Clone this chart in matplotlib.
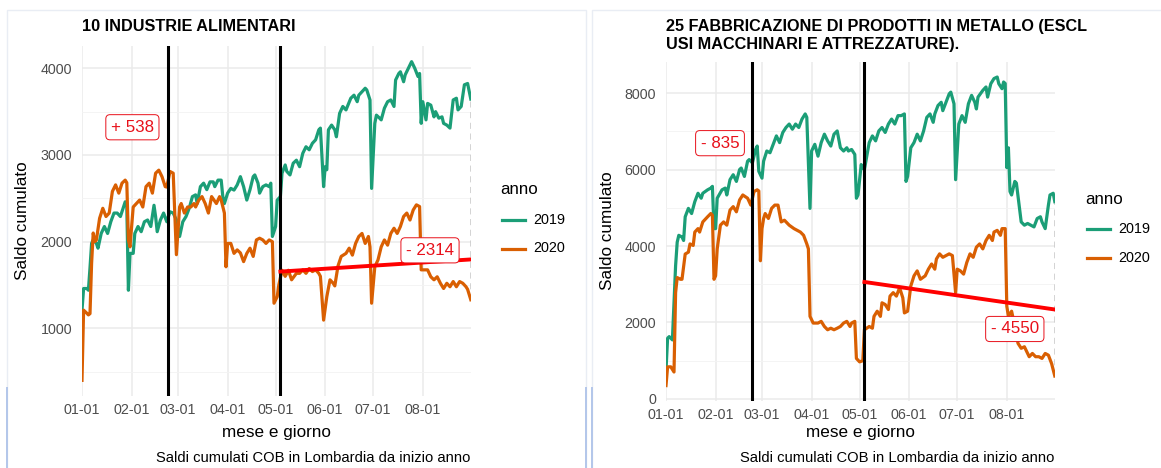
import numpy as np
import matplotlib
matplotlib.use('Agg')

import matplotlib.pyplot as plt
from matplotlib.lines import Line2D
from matplotlib.patches import Rectangle

plt.rcParams['font.family'] = ['Liberation Sans', 'DejaVu Sans']

# x axis: days since 1 January (2020 calendar), labelled as month-day
month_days = [0, 31, 60, 91, 121, 152, 182, 213]
month_labels = ["01-01", "02-01", "03-01", "04-01", "05-01", "06-01", "07-01", "08-01"]
last_day = 243
event_days = [54, 124]          # 24 Feb and 4 May

# 10 INDUSTRIE ALIMENTARI, (day, saldo cumulato)
food_2019 = [(0, 1210), (1, 1460), (3, 1460), (4, 1440), (5, 1700), (6, 1980), (7, 2020),
             (9, 1980), (10, 1925), (12, 2095), (14, 2175), (16, 2095), (18, 2230), (20, 2330),
             (22, 2330), (24, 2290), (26, 2405), (27, 2460), (28, 2400), (29, 1440), (30, 1865),
             (32, 1865), (33, 2095), (35, 2175), (37, 2115), (39, 2230), (41, 2250), (43, 2175),
             (45, 2420), (46, 2290), (47, 2115), (49, 2250), (51, 2330), (53, 2230), (55, 2345),
             (57, 2330), (59, 2250), (61, 2060), (63, 2230), (65, 2290), (67, 2385), (69, 2520),
             (71, 2540), (72, 2440), (74, 2635), (76, 2675), (78, 2600), (80, 2690), (82, 2690),
             (83, 2635), (85, 2710), (87, 2710), (88, 2520), (89, 2440), (91, 2560), (93, 2615),
             (95, 2595), (97, 2655), (99, 2750), (101, 2635), (103, 2480), (105, 2600), (107, 2750),
             (108, 2770), (110, 2675), (111, 2560), (113, 2635), (115, 2655), (117, 2635),
             (118, 2675), (119, 2060), (121, 2175), (122, 2480), (124, 2520), (125, 2790),
             (127, 2885), (128, 2810), (130, 2770), (132, 2905), (134, 2940), (136, 2865),
             (138, 3020), (140, 3095), (142, 3060), (144, 3135), (146, 3175), (148, 3290),
             (149, 3310), (151, 2635), (152, 2865), (153, 2830), (154, 3290), (156, 3345),
             (158, 3290), (159, 3210), (161, 3480), (163, 3560), (165, 3520), (168, 3655),
             (170, 3690), (172, 3615), (173, 3690), (175, 3730), (177, 3770), (178, 3750),
             (180, 3635), (181, 2615), (183, 3365), (184, 3460), (186, 3425), (187, 3405),
             (189, 3540), (191, 3615), (193, 3635), (195, 3560), (196, 3865), (198, 3940),
             (199, 3960), (201, 3845), (202, 3925), (205, 4040), (206, 4077), (208, 4000),
             (210, 3905), (211, 3940), (212, 3365), (213, 3615), (215, 3405), (216, 3595),
             (218, 3575), (220, 3440), (221, 3500), (223, 3425), (225, 3440), (226, 3365),
             (228, 3345), (230, 3310), (232, 3635), (234, 3655), (235, 3520), (237, 3560),
             (239, 3810), (241, 3825), (243, 3645)]
food_2020 = [(0, 400), (1, 1210), (3, 1175), (4, 1155), (5, 1170), (6, 1750), (7, 2100),
             (8, 2000), (9, 2020), (11, 2270), (13, 2385), (15, 2290), (17, 2330), (19, 2580),
             (21, 2655), (23, 2560), (25, 2675), (27, 2710), (28, 2680), (29, 2020), (30, 1940),
             (32, 2400), (34, 2440), (36, 2480), (38, 2400), (40, 2635), (42, 2675), (44, 2560),
             (46, 2790), (48, 2825), (50, 2750), (52, 2635), (53, 2630), (55, 2810), (57, 2790),
             (59, 1850), (61, 2400), (62, 2440), (64, 2330), (66, 2400), (68, 2400), (70, 2440),
             (71, 2400), (73, 2480), (75, 2520), (77, 2440), (79, 2330), (81, 2520), (84, 2440),
             (86, 2520), (87, 2480), (89, 2330), (90, 1710), (91, 1980), (93, 1980), (95, 1865),
             (97, 1905), (99, 1870), (101, 1770), (103, 1865), (105, 1925), (107, 1830),
             (109, 2020), (111, 2040), (113, 2020), (115, 1980), (117, 2020), (119, 2000),
             (120, 1290), (122, 1365), (123, 1500), (125, 1670), (127, 1600), (129, 1670),
             (131, 1560), (134, 1635), (136, 1635), (138, 1675), (140, 1635), (142, 1690),
             (144, 1655), (146, 1675), (148, 1635), (149, 1600), (151, 1095), (153, 1365),
             (155, 1560), (157, 1520), (158, 1490), (160, 1720), (162, 1830), (165, 1865),
             (167, 1925), (169, 1845), (171, 1980), (173, 2060), (175, 2095), (177, 1980),
             (179, 2060), (180, 1940), (181, 1290), (183, 1710), (185, 1790), (187, 1940),
             (189, 2020), (191, 1960), (193, 2095), (195, 2155), (197, 2095), (199, 2175),
             (201, 2290), (203, 2330), (205, 2250), (207, 2365), (209, 2425), (211, 2405),
             (212, 1675), (214, 1675), (216, 1675), (218, 1595), (220, 1560), (222, 1595),
             (224, 1520), (226, 1460), (228, 1520), (230, 1480), (232, 1540), (234, 1480),
             (236, 1540), (238, 1520), (240, 1480), (241, 1450), (243, 1330)]

# 25 FABBRICAZIONE DI PRODOTTI IN METALLO
metal_2019 = [(0, 750), (1, 1590), (2, 1630), (4, 1545), (5, 2500), (6, 3485), (7, 4100),
              (8, 4280), (10, 4235), (11, 4145), (12, 4765), (14, 4985), (16, 4850), (18, 5160),
              (20, 5380), (22, 5250), (23, 5380), (26, 5470), (28, 5515), (29, 5560), (30, 4455),
              (31, 4455), (32, 5250), (35, 5470), (37, 5515), (38, 5335), (40, 5735), (42, 5865),
              (44, 5690), (46, 6000), (47, 6040), (49, 5820), (51, 6220), (52, 6260), (54, 6175),
              (56, 6525), (57, 6615), (58, 5955), (60, 5775), (61, 6220), (63, 6485), (65, 6440),
              (67, 6660), (69, 6880), (71, 6705), (73, 6970), (75, 7100), (77, 7190), (79, 7055),
              (81, 7190), (83, 7100), (85, 7320), (87, 7455), (88, 7365), (90, 4985), (91, 6485),
              (93, 6660), (95, 6350), (97, 6705), (99, 6925), (101, 6750), (103, 6615),
              (105, 6925), (107, 7010), (109, 6570), (111, 6485), (113, 6570), (114, 6485),
              (116, 6525), (118, 6395), (119, 5250), (120, 5335), (122, 6130), (123, 6040),
              (124, 6000), (127, 6705), (129, 6880), (131, 6750), (133, 7010), (135, 7100),
              (137, 6970), (139, 7190), (141, 7320), (143, 7190), (145, 7410), (147, 7410),
              (149, 7455), (150, 5690), (151, 5820), (153, 6570), (155, 6705), (157, 6925),
              (159, 6750), (161, 7010), (163, 7365), (165, 7455), (167, 7235), (168, 7455),
              (170, 7675), (172, 7760), (173, 7540), (175, 7760), (177, 7980), (178, 8025),
              (180, 7720), (181, 5735), (183, 7190), (185, 7410), (186, 7320), (187, 7235),
              (189, 7720), (191, 7940), (193, 7760), (194, 7585), (195, 7895), (198, 8070),
              (200, 8160), (201, 7895), (203, 8245), (205, 8380), (207, 8420), (208, 8245),
              (210, 8115), (211, 8290), (212, 8250), (213, 6050), (214, 6570), (215, 5425),
              (216, 5335), (218, 5690), (219, 5645), (220, 5300), (222, 4630), (224, 4545),
              (226, 4590), (228, 4545), (230, 4500), (232, 4720), (234, 4765), (235, 4630),
              (237, 4455), (239, 5070), (240, 5335), (242, 5380), (243, 5160)]
metal_2020 = [(0, 350), (1, 840), (3, 840), (5, 705), (6, 2780), (7, 3175), (9, 3130),
              (10, 3130), (12, 3790), (14, 3840), (15, 4055), (17, 4015), (18, 4365), (20, 4455),
              (21, 4365), (23, 4630), (26, 4765), (28, 4850), (29, 4805), (30, 3130), (31, 3220),
              (32, 3925), (34, 4545), (36, 4630), (38, 4545), (40, 4940), (42, 5030), (44, 4895),
              (46, 5205), (48, 5335), (51, 5250), (53, 5070), (55, 5425), (57, 5470), (58, 5440),
              (59, 3615), (60, 4455), (61, 4720), (62, 4850), (64, 4720), (66, 4985), (68, 5070),
              (70, 5070), (72, 4630), (74, 4675), (77, 4545), (80, 4455), (82, 4410), (84, 4365),
              (86, 4280), (88, 4055), (89, 3925), (90, 2160), (91, 2075), (92, 1985), (95, 1985),
              (97, 2030), (99, 1895), (101, 1810), (103, 1850), (105, 1810), (107, 1850),
              (109, 1895), (111, 1985), (113, 2030), (115, 1895), (116, 1985), (118, 2030),
              (119, 1060), (121, 970), (123, 1000), (124, 1810), (127, 1895), (129, 1850),
              (130, 2160), (132, 2295), (134, 2160), (135, 2515), (137, 2470), (139, 2340),
              (140, 2690), (142, 2780), (144, 2690), (146, 2910), (148, 2645), (149, 2250),
              (151, 2295), (153, 2955), (155, 3220), (157, 3350), (159, 3130), (162, 3220),
              (164, 3395), (166, 3530), (168, 3395), (169, 3660), (171, 3795), (173, 3705),
              (175, 3750), (177, 3795), (179, 3750), (181, 2780), (182, 3395), (184, 3350),
              (186, 3265), (188, 3570), (190, 3795), (192, 3705), (194, 3970), (196, 4055),
              (198, 3925), (200, 4145), (202, 4280), (204, 4145), (205, 4365), (207, 4410),
              (209, 4280), (210, 4455), (212, 4455), (213, 2425), (214, 2160), (216, 2295),
              (218, 1900), (220, 1455), (222, 1325), (224, 1365), (226, 1190), (227, 1105),
              (229, 1190), (231, 1105), (233, 1105), (235, 1060), (237, 1190), (239, 1145),
              (241, 925), (243, 600)]

# trend of 2020 after 4 May (start, end)
trend_days = [124, 243]
food_trend = [1655, 1795]
metal_trend = [3060, 2340]

# difference labels: (day, y position, text)
food_labels = [(31.5, 3320, "+ 538"), (217.5, 1900, "- 2314")]
metal_labels = [(33.75, 6690, "- 835"), (218, 1830, "- 4550")]

titles = [["10 INDUSTRIE ALIMENTARI"],
          ["25 FABBRICAZIONE DI PRODOTTI IN METALLO (ESCL",
           "USI MACCHINARI E ATTREZZATURE)."]]
caption = "Saldi cumulati COB in Lombardia da inizio anno"

GREEN = "#1B9E77"
ORANGE = "#D95F02"
W, H = 1161, 468


def fx(x):
    return x / W


def fy(y):
    return 1 - y / H


def draw_panel(fig, rect, s2019, s2020, trend, labels, yticks, yminor):
    ax = fig.add_axes(rect)
    ax.set_facecolor("white")
    ax.set_axisbelow(True)

    d19, v19 = zip(*s2019)
    d20, v20 = zip(*s2020)
    ax.plot(d19, v19, color=GREEN, lw=2.3, solid_joinstyle="round", zorder=3)
    ax.plot(d20, v20, color=ORANGE, lw=2.3, solid_joinstyle="round", zorder=3)

    # gap between the two years at the last day
    ax.plot([last_day, last_day], [v20[-1], v19[-1]], color="#c8c8c8", lw=1.1,
            ls=(0, (4, 3)), zorder=2)

    for d in event_days:
        ax.axvline(d, color="black", lw=2.2, zorder=4)
    ax.plot(trend_days, trend, color="red", lw=2.8, zorder=5)

    for d, y, t in labels:
        ax.text(d, y, t, color="#e8101a", fontsize=12.2, ha="center", va="center", zorder=6,
                bbox=dict(boxstyle="round,pad=0.3,rounding_size=0.25", fc="white",
                          ec="#e8101a", lw=0.7))

    ax.margins(x=0, y=0.05)
    ax.set_xlim(0, last_day)
    ax.set_xticks(month_days)
    ax.set_xticklabels(month_labels)
    ax.set_yticks(yticks)
    ax.set_yticklabels([str(v) for v in yticks])
    ax.set_yticks(yminor, minor=True)
    ax.grid(which="major", color="#ebebeb", lw=1.1)
    ax.grid(which="minor", axis="y", color="#f3f3f3", lw=0.6)
    ax.tick_params(which="both", length=0, labelsize=10.3, labelcolor="#4d4d4d")
    ax.tick_params(axis="x", pad=5)
    ax.tick_params(axis="y", pad=7)
    for s in ax.spines.values():
        s.set_visible(False)
    return ax


def legend(fig, x, y):
    fig.text(fx(x), fy(y), "anno", fontsize=12.2, ha="left", va="center")
    for i, (c, lab) in enumerate([(GREEN, "2019"), (ORANGE, "2020")]):
        yy = y + 30 + i * 28.5
        fig.add_artist(Line2D([fx(x + 2), fx(x + 25)], [fy(yy), fy(yy)], color=c, lw=2.3,
                              transform=fig.transFigure))
        fig.text(fx(x + 33), fy(yy), lab, fontsize=10.4, ha="left", va="center")


def main():
    fig = plt.figure(figsize=(W / 100, H / 100), dpi=100)
    fig.patch.set_facecolor("white")

    # card frames
    for x0, x1 in [(7, 586), (592, 1170)]:
        fig.add_artist(Rectangle((fx(x0), fy(475)), fx(x1 - x0), (475 - 10) / H,
                                 transform=fig.transFigure, fill=False, ec="#e9edf4", lw=1))
    for x in [7, 586, 592]:
        fig.add_artist(Line2D([fx(x), fx(x)], [fy(388), fy(468)], color="#b3c6ea", lw=1.4,
                              transform=fig.transFigure))

    left = [82 / W, 1 - 396.3 / H, 388.8 / W, 350.6 / H]
    right = [666 / W, 1 - 401 / H, 388.8 / W, 339.4 / H]

    draw_panel(fig, left, food_2019, food_2020, food_trend, food_labels,
               [1000, 2000, 3000, 4000], [500, 1500, 2500, 3500])
    draw_panel(fig, right, metal_2019, metal_2020, metal_trend, metal_labels,
               [0, 2000, 4000, 6000, 8000], [1000, 3000, 5000, 7000])

    # titles
    fig.text(fx(82), fy(26.5), titles[0][0], fontsize=11.7, fontweight="bold", va="center")
    fig.text(fx(666), fy(26.5), titles[1][0], fontsize=11.7, fontweight="bold", va="center")
    fig.text(fx(666), fy(45), titles[1][1], fontsize=11.7, fontweight="bold", va="center")

    # axis titles and captions
    for cx, right_x in [(276.4, 470.8), (860.4, 1054.8)]:
        fig.text(fx(cx), fy(432), "mese e giorno", fontsize=12.3, ha="center", va="center")
        fig.text(fx(right_x), fy(457.5), caption, fontsize=10.6, ha="right", va="center")
    fig.text(fx(23), fy(221), "Saldo cumulato", fontsize=12.3, rotation=90,
             ha="center", va="center")
    fig.text(fx(608), fy(231), "Saldo cumulato", fontsize=12.3, rotation=90,
             ha="center", va="center")

    legend(fig, 500, 190)
    legend(fig, 1085, 199)

    plt.savefig("out.png", dpi=100)


if __name__ == "__main__":
    main()
